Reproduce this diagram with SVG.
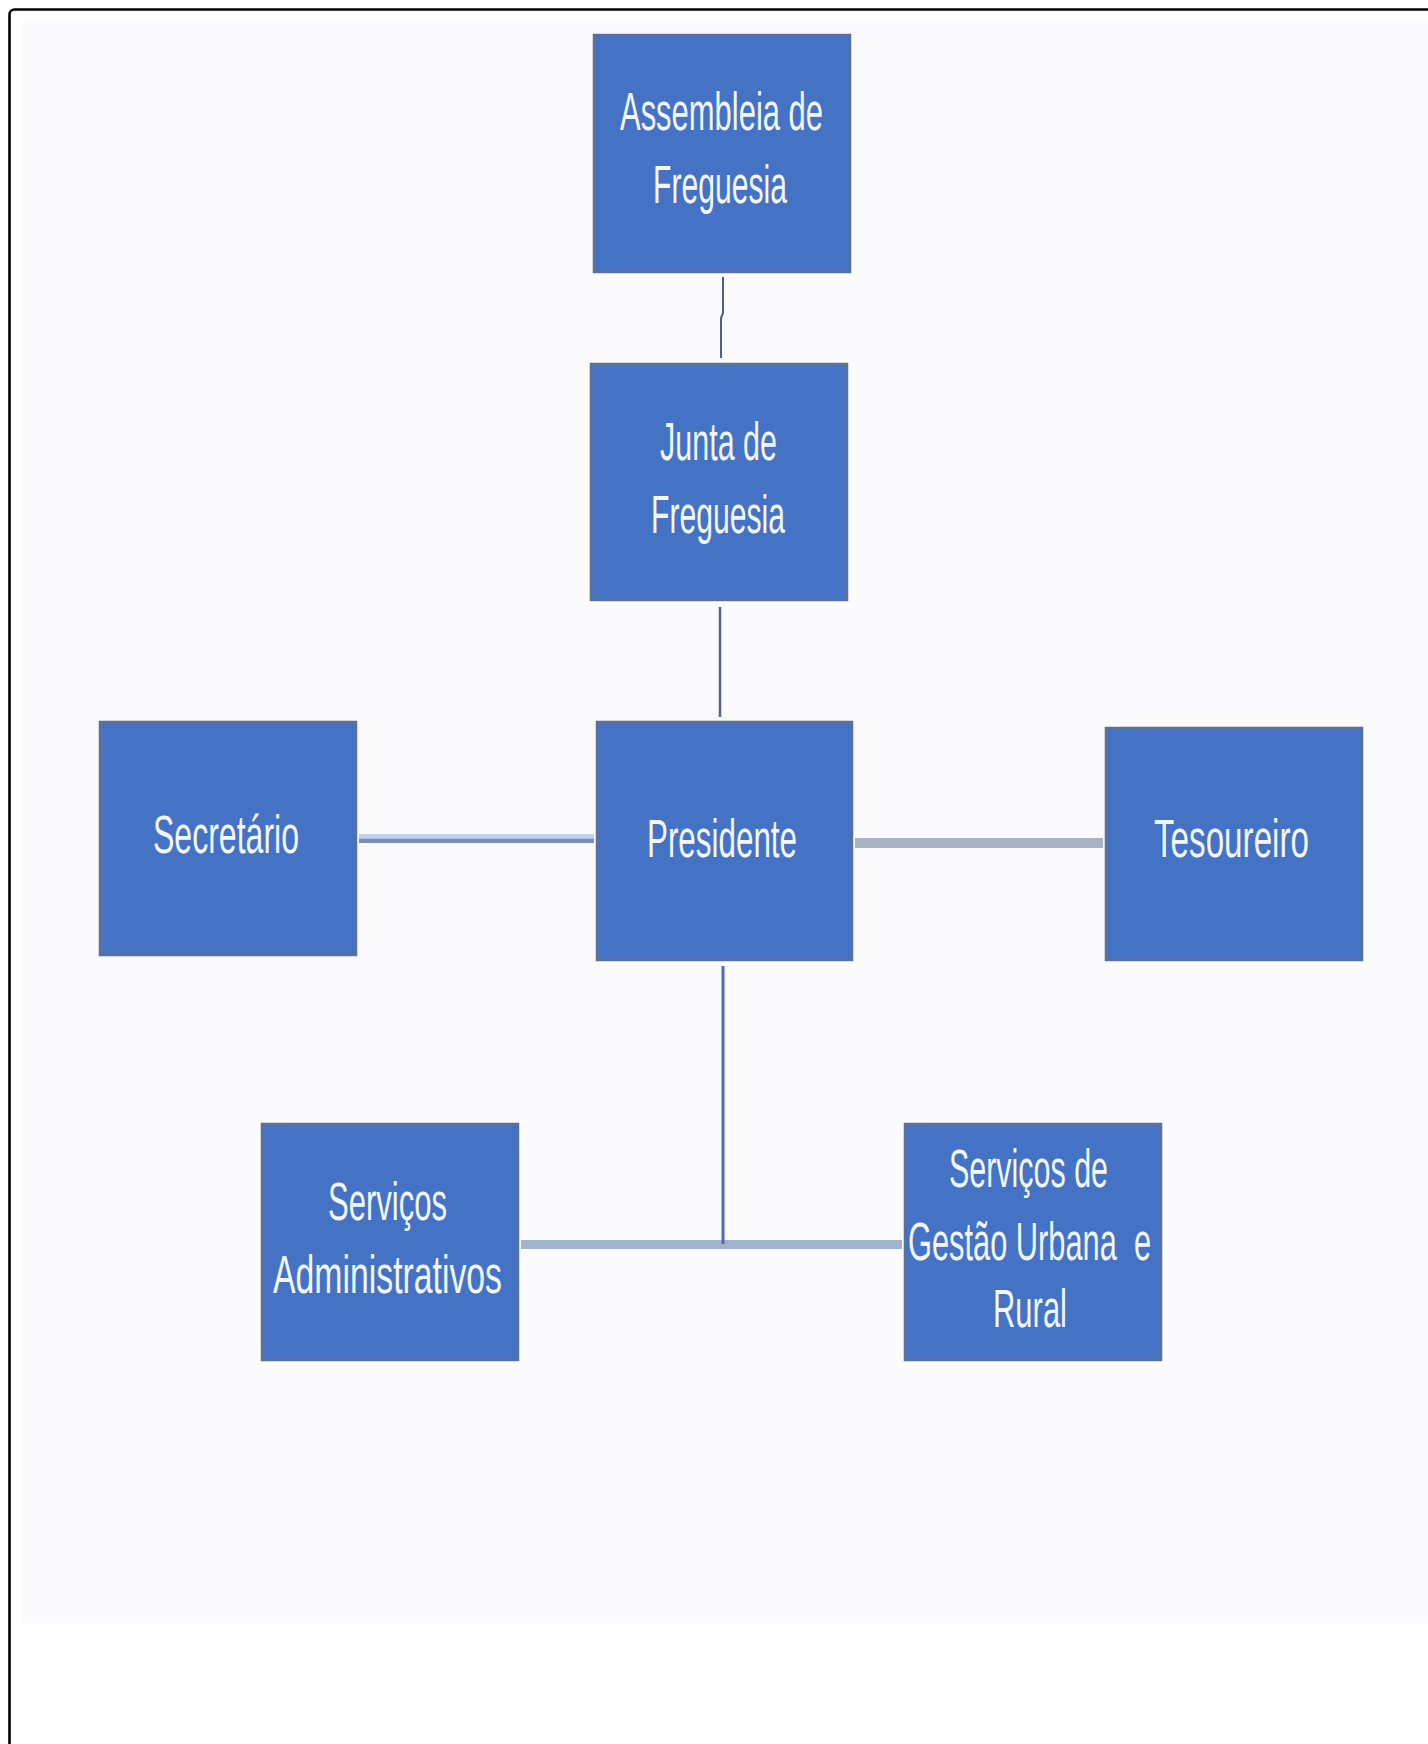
<svg xmlns="http://www.w3.org/2000/svg" width="1428" height="1744" viewBox="0 0 1428 1744">
<style>
.box{fill:#4472c4;stroke:#5b7199;stroke-width:2.5}
.t{font-family:"Liberation Sans",Arial,sans-serif;font-size:53px;fill:#f2f6ff}
</style>
<rect x="0" y="0" width="1428" height="1744" fill="#ffffff"/>
<rect x="22" y="20" width="1406" height="1603" fill="#fbfafd"/>
<rect x="9.5" y="9.5" width="1440" height="1760" rx="5" fill="none" stroke="#000000" stroke-width="2.6"/>
<g id="connectors">
<path d="M723,277 V313 L721,318 V358" fill="none" stroke="#4a6088" stroke-width="2"/>
<line x1="720" y1="607" x2="720" y2="717" stroke="#4f6590" stroke-width="2.5"/>
<rect x="359" y="834" width="235" height="4.5" fill="#c3d3f0"/>
<rect x="359" y="838.5" width="235" height="4.5" fill="#7a8fba"/>
<rect x="855" y="838" width="248" height="10" fill="#a9b1c4"/>
<rect x="521" y="1240" width="381" height="9" fill="#a2b3d0"/>
<line x1="723" y1="966" x2="723" y2="1244" stroke="#4f6ea8" stroke-width="3"/>
</g>
<g id="assembleia">
<rect class="box" x="594" y="35" width="256" height="237"/>
<text class="t" x="620" y="130" textLength="203" lengthAdjust="spacingAndGlyphs">Assembleia de</text>
<text class="t" x="653" y="203" textLength="134" lengthAdjust="spacingAndGlyphs">Freguesia</text>
</g>
<g id="junta">
<rect class="box" x="591" y="364" width="256" height="236"/>
<text class="t" x="660" y="460" textLength="117" lengthAdjust="spacingAndGlyphs">Junta de</text>
<text class="t" x="651" y="533" textLength="134" lengthAdjust="spacingAndGlyphs">Freguesia</text>
</g>
<g id="secretario">
<rect class="box" x="100" y="722" width="256" height="233"/>
<text class="t" x="153" y="853" textLength="146" lengthAdjust="spacingAndGlyphs">Secretário</text>
</g>
<g id="presidente">
<rect class="box" x="597" y="722" width="255" height="238"/>
<text class="t" x="647" y="857" textLength="150" lengthAdjust="spacingAndGlyphs">Presidente</text>
</g>
<g id="tesoureiro">
<rect class="box" x="1106" y="728" width="256" height="232"/>
<text class="t" x="1154" y="857" textLength="155" lengthAdjust="spacingAndGlyphs">Tesoureiro</text>
</g>
<g id="servicos-administrativos">
<rect class="box" x="262" y="1124" width="256" height="236"/>
<text class="t" x="328" y="1220" textLength="119" lengthAdjust="spacingAndGlyphs">Serviços</text>
<text class="t" x="273" y="1293" textLength="229" lengthAdjust="spacingAndGlyphs">Administrativos</text>
</g>
<g id="servicos-gestao">
<rect class="box" x="905" y="1124" width="256" height="236"/>
<text class="t" x="949" y="1187" textLength="159" lengthAdjust="spacingAndGlyphs">Serviços de</text>
<text class="t" x="908" y="1260" textLength="243" lengthAdjust="spacingAndGlyphs" xml:space="preserve">Gestão Urbana  e</text>
<text class="t" x="993" y="1327" textLength="74" lengthAdjust="spacingAndGlyphs">Rural</text>
</g>
</svg>
